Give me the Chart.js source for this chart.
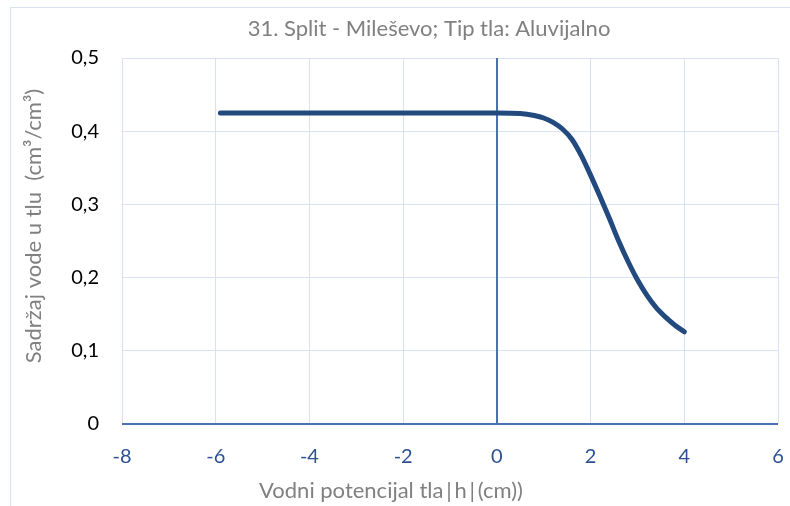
<!DOCTYPE html>
<html>
<head>
<meta charset="utf-8">
<script src="https://cdn.jsdelivr.net/npm/chart.js@4"></script>
<style>
  body { margin: 0; background: #fff; overflow: hidden; }
  #wrap { position: relative; width: 790px; height: 506px; }
  #frame { position: absolute; left: 10px; top: 7px; width: 800px; height: 520px; border: 1px solid #d9e2f3; }
  canvas { position: absolute; left: 0; top: 0; }
</style>
</head>
<body>
<div id="wrap">
  <div id="frame"></div>
  <canvas id="chart" width="790" height="506"></canvas>
</div>
<script>
// vodni potencijal (x) i sadržaj vode (y), očitano sa slike
const potential = [-5.9, -4, -2, 0, 0.5, 0.8, 1.0, 1.2, 1.4, 1.6, 1.8, 2.0, 2.2, 2.4, 2.6, 2.8, 3.0, 3.2, 3.4, 3.6, 3.8, 4.0];
const waterContent = [0.425, 0.425, 0.425, 0.425, 0.4243, 0.4215, 0.418, 0.412, 0.403, 0.389, 0.367, 0.34, 0.311, 0.281, 0.25, 0.222, 0.197, 0.176, 0.159, 0.146, 0.135, 0.126];
const xTicks = [-8, -6, -4, -2, 0, 2, 4, 6];
const yTicks = [0, 0.1, 0.2, 0.3, 0.4, 0.5];

const chartTitle = '31. Split - Mileševo; Tip tla: Aluvijalno';
const xTitle = 'Vodni potencijal tla\u2009|\u2009h\u2009|\u2009(cm))';
const yTitle = 'Sadržaj vode u tlu  (cm³/cm³)';

const FONT = 'Lato, "Open Sans", sans-serif';
const gridLight = '#d9e2f3';
const axisBlue = '#4a72b0';
const textGray = '#808080';

const points = potential.map((x, i) => ({ x: x, y: waterContent[i] }));

// naslovi kao u Excelu (nisu centrirani na područje grafa)
const excelTitles = {
  id: 'excelTitles',
  afterDraw(chart) {
    const ctx = chart.ctx;
    ctx.save();
    ctx.fillStyle = textGray;
    ctx.textAlign = 'center';
    ctx.textBaseline = 'middle';
    ctx.font = '22px ' + FONT;
    ctx.fillText(chartTitle, 429, 29);
    ctx.fillText(xTitle, 391, 491);
    ctx.translate(34, 226);
    ctx.rotate(-Math.PI / 2);
    ctx.fillText(yTitle, 0, 0);
    ctx.restore();
  },
};

// os y prolazi kroz x = 0
const zeroLine = {
  id: 'zeroLine',
  beforeDatasetsDraw(chart) {
    const { ctx, chartArea, scales } = chart;
    const x0 = Math.round(scales.x.getPixelForValue(0));
    ctx.save();
    ctx.strokeStyle = axisBlue;
    ctx.lineWidth = 2;
    ctx.beginPath();
    ctx.moveTo(x0, chartArea.top);
    ctx.lineTo(x0, chartArea.bottom);
    ctx.stroke();
    ctx.restore();
  },
};

new Chart(document.getElementById('chart').getContext('2d'), {
  type: 'scatter',
  data: {
    datasets: [
      {
        data: points,
        showLine: true,
        borderColor: '#224a7e',
        borderWidth: 5,
        borderCapStyle: 'round',
        pointRadius: 0,
        cubicInterpolationMode: 'monotone',
      },
    ],
  },
  options: {
    animation: false,
    responsive: false,
    layout: { padding: { right: 0, left: 0, top: 58, bottom: 0 } },
    plugins: {
      legend: { display: false },
      tooltip: { enabled: false },
      title: { display: false },
    },
    scales: {
      x: {
        type: 'linear',
        min: -8,
        max: 6,
        afterBuildTicks: (scale) => {
          scale.ticks = xTicks.map((v) => ({ value: v }));
        },
        afterFit: (scale) => {
          scale.height = 82;
          scale.paddingLeft = 0;
          scale.paddingRight = 12;
        },
        ticks: {
          color: '#2b5191',
          padding: 21,
          font: { family: FONT, size: 20 },
          callback: (v) => String(v),
        },
        grid: {
          drawTicks: false,
          color: gridLight,
          lineWidth: 1,
        },
        border: { display: false },
      },
      y: {
        min: 0,
        max: 0.5,
        afterBuildTicks: (scale) => {
          scale.ticks = yTicks.map((v) => ({ value: v }));
        },
        afterFit: (scale) => {
          scale.width = 122;
        },
        ticks: {
          color: '#000',
          padding: 23,
          font: { family: FONT, size: 20 },
          callback: (v) => (v === 0 ? '0' : v.toFixed(1).replace('.', ',')),
        },
        grid: {
          drawTicks: false,
          color: (ctx) => (ctx.tick && ctx.tick.value === 0 ? axisBlue : gridLight),
          lineWidth: (ctx) => (ctx.tick && ctx.tick.value === 0 ? 2 : 1),
        },
        border: { display: false },
      },
    },
  },
  plugins: [zeroLine, excelTitles],
});
</script>
</body>
</html>
